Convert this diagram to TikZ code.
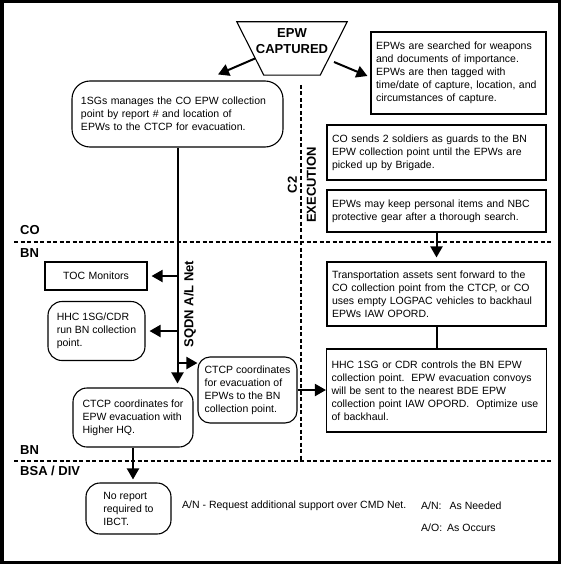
\documentclass[tikz,border=0pt]{standalone}
\usepackage{fontspec}
\setmainfont{Liberation Sans}
\usepackage{tikz}
\usetikzlibrary{arrows.meta}
\tikzstyle{notebox}    = [rectangle, draw=black, line width=1.1pt, text width=209pt, inner xsep=5pt, inner ysep=2pt, align=left, font=\fontsize{10.5}{13}\selectfont]
\tikzstyle{roundbox}   = [rectangle, rounded corners=14pt, draw=black, line width=1.1pt, inner sep=2pt, align=left, font=\fontsize{10.5}{13}\selectfont]
\tikzstyle{capbox}     = [rectangle, minimum width=110pt, minimum height=53pt, inner sep=0pt, align=center, font=\bfseries\fontsize{13}{16}\selectfont]
\tikzstyle{levellabel} = [anchor=west, inner sep=0pt, font=\bfseries\fontsize{13}{15}\selectfont]
\tikzstyle{netlabel}   = [rotate=90, inner sep=0pt, align=center, font=\bfseries\fontsize{13}{15}\selectfont]
\tikzstyle{legend}     = [anchor=west, inner sep=0pt, font=\fontsize{10.5}{13}\selectfont]
\tikzstyle{arrow}      = [line width=2pt, -{Triangle[length=11pt,width=12pt]}, shorten >=4pt]
\tikzstyle{link}       = [line width=2pt]
\tikzstyle{divider}    = [line width=1.5pt, dash pattern=on 4pt off 2.5pt]

\begin{document}
\begin{tikzpicture}[x=1pt, y=-1pt]
      \useasboundingbox (0,0) rectangle (561,564);
      % Frame
      \fill [white] (0,0) rectangle (561,564);
      \draw [line width=3.5pt] (1.75,1.75) rectangle (559.25,562.25);

      % Nodes
      %% Capture and company level
      \node (captured)   [capbox] at (292,48.5) {EPW\\CAPTURED\\[-1pt]\mbox{}};
      \node (searched)   [notebox, text width=165pt, minimum height=82pt, right of=captured, xshift=138.05pt, yshift=-24.5pt] {EPWs are searched for weapons\\and documents of importance.\\EPWs are then tagged with\\time/date of capture, location, and\\circumstances of capture.};
      \node (sgmanage)   [roundbox, rounded corners=18pt, text width=193pt, inner xsep=9pt, minimum height=66pt, left of=captured, xshift=-86.05pt, yshift=-65.5pt] {1SGs manages the CO EPW collection\\point by report \# and location of\\EPWs to the CTCP for evacuation.};
      \node (guards)     [notebox, minimum height=55pt, below of=searched, xshift=-22pt, yshift=-51.05pt] {CO sends 2 soldiers as guards to the BN\\EPW collection point until the EPWs are\\picked up by Brigade.};
      \node (gear)       [notebox, minimum height=42pt, below of=guards, yshift=-30.05pt] {EPWs may keep personal items and NBC\\protective gear after a thorough search.};
      %% Battalion level
      \node (transport)  [notebox, minimum height=64pt, below of=gear, yshift=-54.55pt] {Transportation assets sent forward to the\\CO collection point from the CTCP, or CO\\uses empty LOGPAC vehicles to backhaul\\EPWs IAW OPORD.};
      \node (hhccontrol) [notebox, text width=210pt, minimum height=83pt, below of=transport, yshift=-68.05pt] {HHC 1SG or CDR controls the BN EPW\\collection point.\ \ EPW evacuation convoys\\will be sent to the nearest BDE EPW\\collection point IAW OPORD.\ \ Optimize use\\of backhaul.};
      \node (toc)        [notebox, text width=92pt, align=center, minimum height=28pt, below of=sgmanage, xshift=-81.5pt, yshift=-133.55pt] {TOC Monitors};
      \node (hhcrun)     [roundbox, minimum width=97pt, minimum height=59pt, below of=toc, xshift=0.5pt, yshift=-26.55pt] {HHC 1SG/CDR\\run BN collection\\point.};
      \node (ctcpbn)     [roundbox, rounded corners=12pt, minimum width=99pt, minimum height=66pt, below of=sgmanage, xshift=70pt, yshift=-247.55pt] {CTCP coordinates\\for evacuation of\\EPWs to the BN\\collection point.};
      \node (ctcphq)     [roundbox, minimum width=120pt, minimum height=59pt, below of=sgmanage, xshift=-44.5pt, yshift=-275.05pt] {CTCP coordinates for\\EPW evacuation with\\Higher HQ.};
      %% Brigade support area
      \node (noreport)   [roundbox, minimum width=85pt, minimum height=51pt, below of=ctcphq, xshift=-4.5pt, yshift=-62.55pt] {No report\\required to\\IBCT.};

      % Labels
      \node (co_label)   [levellabel] at (20,230) {CO};
      \node (bn_top)     [levellabel] at (20,253) {BN};
      \node (bn_bottom)  [levellabel] at (20,450) {BN};
      \node (bsa_label)  [levellabel] at (20,471) {BSA / DIV};
      \node (c2_label)   [netlabel] at (302,185) {C2\\[4pt]EXECUTION};
      \node (sqdn_label) [netlabel] at (190,304) {SQDN A/L Net};
      \node (request)    [legend] at (182,506) {A/N - Request additional support over CMD Net.};
      \node (needed)     [legend] at (421,506) {A/N:\hspace{8pt}As Needed};
      \node (occurs)     [legend] at (421,528) {A/O:\hspace{5pt}As Occurs};

      % Level dividers
      \draw [divider] (14,242) -- (551,242);
      \draw [divider] (14,461) -- (551,461);
      \draw [divider] (301,85) -- (301,461);

      % Trapezoid round the capture
      \draw [line width=1.1pt] (captured.north west) -- (captured.north east) -- ([xshift=-27pt]captured.south east) -- ([xshift=27pt]captured.south west) -- cycle;

      % % Arrows
      \draw [arrow, shorten >=0pt] ([xshift=-37pt, yshift=-10pt]captured.center) -- ([xshift=40.5pt, yshift=6pt]sgmanage.north);
      \draw [arrow, shorten >=0pt] ([xshift=42pt, yshift=-13.5pt]captured.center) -- ([xshift=-3pt, yshift=-3pt]searched.west);
      \draw [arrow] (gear.south) -- (transport.north);
      \draw [link]  (transport.south) -- (hhccontrol.north);
      \draw [arrow] (sgmanage.south) -- (sgmanage.south |- ctcphq.north);
      \draw [arrow] (sgmanage.south |- toc.east) -- (toc.east);
      \draw [arrow] (sgmanage.south |- hhcrun.east) -- (hhcrun.east);
      \coordinate (ctcp_in) at ([yshift=27pt]ctcpbn.west);
      \draw [arrow, shorten >=0pt] (sgmanage.south |- ctcp_in) -- (ctcp_in);
      \draw [arrow, shorten >=0pt] (ctcpbn.east) -- (ctcpbn.east -| hhccontrol.west);
      \draw [arrow, shorten >=3pt] (ctcphq.south) -- (ctcphq.south |- noreport.north);
\end{tikzpicture}
\end{document}
